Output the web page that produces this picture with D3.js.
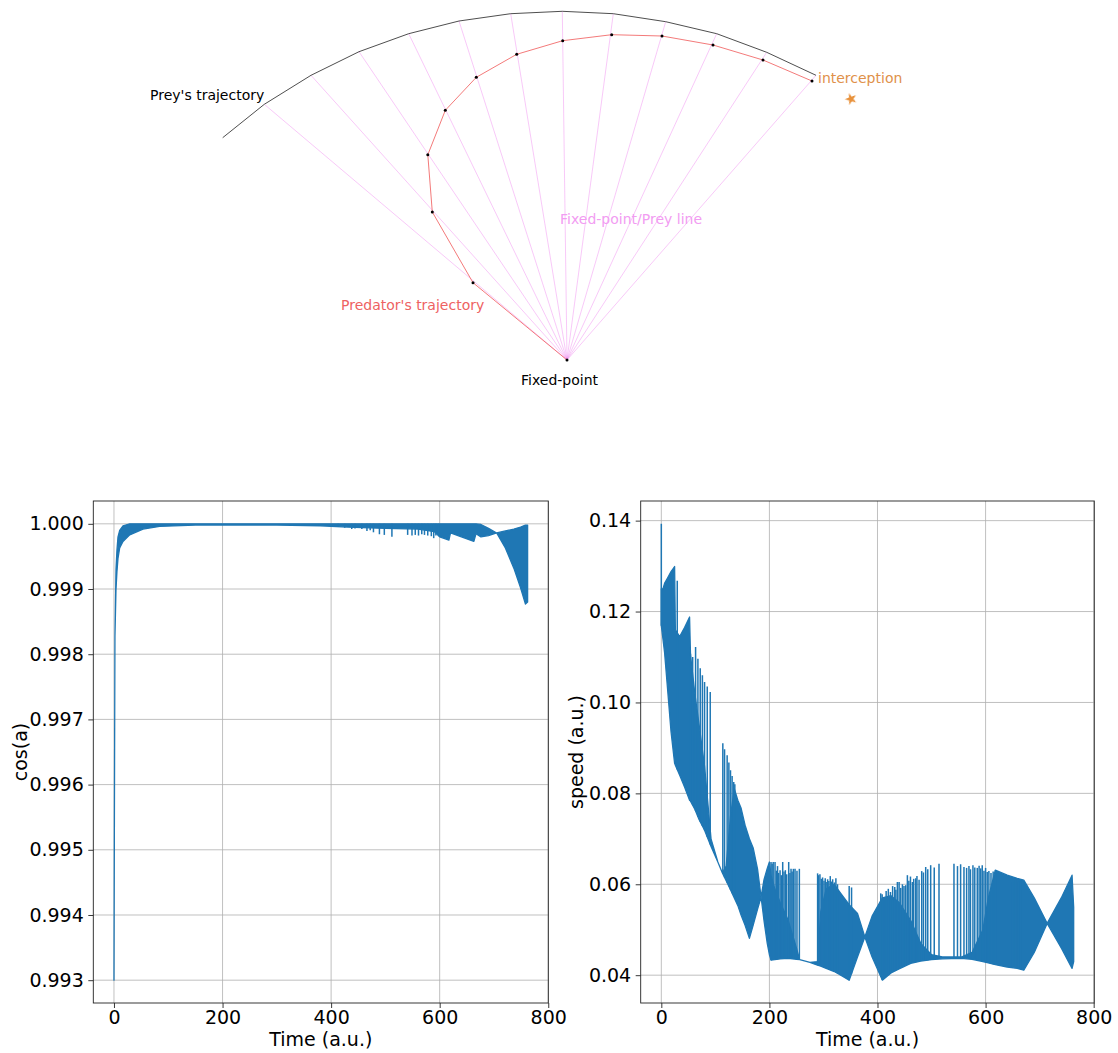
<!DOCTYPE html>
<html>
<head>
<meta charset="utf-8">
<script src="https://cdn.jsdelivr.net/npm/d3@7"></script>
<style>
  body { margin: 0; background: #fff; }
  svg { display: block; }
  text { font-family: "DejaVu Sans", sans-serif; }
</style>
</head>
<body>
<svg id="fig" width="1118" height="1053"></svg>
<script>
// ---------- pursuit geometry (arbitrary units, fixed point at the origin) ----------
const preyX = [-3.443, -3.027, -2.560, -2.080, -1.583, -1.080, -0.563, -0.047, 0.463, 0.987, 1.497, 1.997, 2.490];
const preyY = [ 2.223,  2.557,  2.847,  3.083,  3.263,  3.390,  3.463,  3.487, 3.463, 3.383, 3.263, 3.077, 2.847];
const predX = [0.000, -0.940, -1.347, -1.392, -1.217, -0.907, -0.503, -0.043, 0.447, 0.950, 1.460, 1.960, 2.450];
const predY = [0.000,  0.773,  1.480,  2.052,  2.497,  2.827,  3.057,  3.193, 3.253, 3.240, 3.150, 3.000, 2.790];
const fixedPoint = [0, 0];
const interceptPoint = [2.84, 2.61];

// ---------- cos(a) over time: dense oscillation band (lower/upper envelope) + isolated dips ----------
const cosBandT  = [0, 0.8, 1.8, 3.7, 5.5, 7.4, 10.5, 16.6, 29, 53.5, 84, 150, 300, 380, 430, 500, 560, 590, 600, 617, 620, 640, 663, 667, 676, 690, 705, 721, 736.6, 749, 758, 762];
const cosBandLo = [0.99300, 0.99550, 0.99828, 0.99899, 0.99927, 0.99947, 0.99963, 0.99973, 0.99983, 0.99992, 0.99996, 0.99998, 0.99998, 0.99997, 0.99995, 0.99993, 0.99992, 0.99988, 0.99980, 0.99975, 0.99986, 0.99980, 0.99973, 0.99985, 0.99980, 0.99982, 0.99986, 0.99963, 0.99932, 0.99902, 0.99877, 0.99880];
const cosBandHi = [0.99300, 0.99550, 0.99828, 0.99930, 0.99960, 0.99980, 0.99990, 0.99997, 1.00000, 1.00000, 1.00000, 1.00000, 1.00000, 1.00000, 1.00000, 1.00000, 1.00000, 1.00000, 1.00000, 1.00000, 1.00000, 1.00000, 1.00000, 1.00000, 0.99999, 0.99993, 0.99986, 0.99989, 0.99992, 0.99995, 0.99998, 0.99998];
const cosDipT = [413, 425, 438, 444, 456.6, 466, 472, 478, 489, 498, 512, 541, 549, 555, 561, 567, 572, 578, 584.6, 589, 593, 598];
const cosDipV = [0.99995, 0.99994, 0.99992, 0.99993, 0.99992, 0.99989, 0.99990, 0.99987, 0.99984, 0.99983, 0.99980, 0.99983, 0.99982, 0.99983, 0.99982, 0.99984, 0.99983, 0.99982, 0.99981, 0.99978, 0.99982, 0.99981];
const cosTicks = [0.993, 0.994, 0.995, 0.996, 0.997, 0.998, 0.999, 1.000];

// ---------- predator speed over time: oscillation band + isolated peaks ----------
const speedBandT  = [0, 3, 6, 12, 18, 24.6, 26, 34, 43, 52.3, 54, 62, 70, 80, 92, 104.6, 113, 120, 128, 135, 141.6, 147.7, 155, 163, 170, 178, 184.6,
                     190, 196, 200, 203, 210, 220, 235, 250, 256, 275, 289, 295, 305, 320, 332, 347.6, 363, 376.6,
                     390, 409, 425, 440, 461.5, 480, 500, 520, 555, 575, 595, 605, 618, 640, 658.5, 670.7, 690, 713.9, 740, 760, 763];
const speedBandLo = [0.1169, 0.1140, 0.1110, 0.1023, 0.0935, 0.0866, 0.0862, 0.0840, 0.0814, 0.0785, 0.0783, 0.0765, 0.0742, 0.0719, 0.0683, 0.0649, 0.0625, 0.0608, 0.0588, 0.0570, 0.0553, 0.0532, 0.0510, 0.0481, 0.0510, 0.0545, 0.0572,
                     0.0520, 0.0470, 0.0445, 0.0433, 0.0434, 0.0436, 0.0437, 0.0435, 0.0434, 0.0428, 0.0422, 0.0420, 0.0415, 0.0408, 0.0400, 0.0389, 0.0440, 0.0484,
                     0.0440, 0.0389, 0.0405, 0.0414, 0.0426, 0.0431, 0.0434, 0.0436, 0.0437, 0.0435, 0.0430, 0.0427, 0.0423, 0.0418, 0.0415, 0.0411, 0.0450, 0.0514, 0.0460, 0.0415, 0.0430];
const speedBandHi = [0.1250, 0.1250, 0.1262, 0.1275, 0.1288, 0.1299, 0.1160, 0.1145, 0.1165, 0.1188, 0.1105, 0.1020, 0.0950, 0.0860, 0.0700, 0.0649, 0.0625, 0.0640, 0.0750, 0.0810, 0.0785, 0.0767, 0.0730, 0.0700, 0.0680, 0.0634, 0.0572,
                     0.0610, 0.0635, 0.0649, 0.0620, 0.0590, 0.0560, 0.0520, 0.0460, 0.0434, 0.0428, 0.0430, 0.0540, 0.0590, 0.0600, 0.0580, 0.0555, 0.0536, 0.0484,
                     0.0530, 0.0570, 0.0575, 0.0560, 0.0520, 0.0470, 0.0445, 0.0440, 0.0440, 0.0450, 0.0500, 0.0570, 0.0631, 0.0620, 0.0613, 0.0609, 0.0570, 0.0514, 0.0570, 0.0620, 0.0550];
const speedPeakT = [0, 29.5, 54, 58, 63.4, 67.7, 72, 76, 80, 85, 90.5, 113.8, 117, 121.8, 125, 128, 131, 134, 136,
                    203, 205, 207, 210.4, 213, 215, 217, 219.7, 222, 224.6, 227, 229.5, 232, 235.7, 238, 240, 242, 244.3, 247.4, 251, 255.4,
                    289.2, 291, 293.5, 296, 298.4, 301, 303.3, 305, 307.7, 310, 312.6, 315, 317, 320, 323, 326, 347.6, 352,
                    406, 408.6, 412, 416, 420, 424, 428, 431.9, 434, 436.8, 440, 443, 446.1, 449, 452.2, 455.3, 458, 461, 464.6, 467, 470.8, 473, 476.9, 481.8, 485, 489.2, 493, 498.4, 505, 513.8,
                    541.5, 548, 553.8, 560, 564.9, 569.2, 572, 576.6, 580, 584.6, 588, 591, 593.8, 597, 600, 603, 606.1, 610, 614, 618.4, 650, 655.3, 661, 664.5];
const speedPeakV = [0.1393, 0.1268, 0.1107, 0.1100, 0.1122, 0.1096, 0.1075, 0.1060, 0.1045, 0.1035, 0.1023, 0.0910, 0.0897, 0.0884, 0.0868, 0.0851, 0.0838, 0.0825, 0.0820,
                    0.0649, 0.0645, 0.0649, 0.0649, 0.0630, 0.0640, 0.0625, 0.0631, 0.0620, 0.0649, 0.0628, 0.0631, 0.0622, 0.0649, 0.0625, 0.0634, 0.0628, 0.0634, 0.0634, 0.0630, 0.0634,
                    0.0624, 0.0620, 0.0622, 0.0612, 0.0615, 0.0608, 0.0613, 0.0605, 0.0611, 0.0607, 0.0618, 0.0606, 0.0611, 0.0604, 0.0613, 0.0600, 0.0596, 0.0593,
                    0.0580, 0.0578, 0.0572, 0.0585, 0.0590, 0.0583, 0.0596, 0.0594, 0.0588, 0.0605, 0.0605, 0.0592, 0.0600, 0.0596, 0.0598, 0.0620, 0.0608, 0.0617, 0.0605, 0.0612, 0.0613, 0.0618, 0.0610, 0.0629, 0.0626, 0.0638, 0.0633, 0.0642, 0.0637, 0.0645,
                    0.0645, 0.0640, 0.0644, 0.0638, 0.0636, 0.0640, 0.0633, 0.0642, 0.0637, 0.0636, 0.0641, 0.0635, 0.0642, 0.0630, 0.0636, 0.0627, 0.0629, 0.0625, 0.0628, 0.0631, 0.0605, 0.0613, 0.0606, 0.0609];
const speedTicks = [0.04, 0.06, 0.08, 0.10, 0.12, 0.14];

const timeTicks = [0, 200, 400, 600, 800];

const BLUE = "#1f77b4";
const FONT = 19;
const svg = d3.select("#fig");
const defs = svg.append("defs");

// ================= top: trajectories =================
(function drawTrajectories() {
  const x = d3.scaleLinear().domain([0, 1]).range([567, 667]);
  const y = d3.scaleLinear().domain([0, 1]).range([360, 260]);
  const g = svg.append("g");

  const prey = preyX.map((v, i) => [v, preyY[i]]);
  const pred = predX.map((v, i) => [v, predY[i]]);
  const line = d3.line().x(d => x(d[0])).y(d => y(d[1]));

  // fixed-point -> prey rays
  g.selectAll("line.ray").data(prey.slice(1)).join("line")
    .attr("class", "ray")
    .attr("x1", x(fixedPoint[0])).attr("y1", y(fixedPoint[1]))
    .attr("x2", d => x(d[0])).attr("y2", d => y(d[1]))
    .attr("stroke", "violet").attr("stroke-opacity", 0.55).attr("stroke-width", 0.8);

  g.append("path").datum(prey).attr("d", line)
    .attr("fill", "none").attr("stroke", "#3a3a3a").attr("stroke-width", 0.9);

  g.append("path").datum(pred).attr("d", line)
    .attr("fill", "none").attr("stroke", "#f26b6b").attr("stroke-width", 0.9);

  g.selectAll("circle.pt").data(pred).join("circle")
    .attr("class", "pt")
    .attr("cx", d => x(d[0])).attr("cy", d => y(d[1])).attr("r", 1.5)
    .attr("fill", "#000");

  defs.append("filter").attr("id", "soft")
    .append("feGaussianBlur").attr("stdDeviation", 0.7);

  g.append("path")
    .attr("d", d3.symbol(d3.symbolStar, 44)())
    .attr("transform", `translate(${x(interceptPoint[0])},${y(interceptPoint[1])}) rotate(-20)`)
    .attr("fill", "#e8913a").attr("filter", "url(#soft)");

  const labels = [
    { t: "Prey's trajectory", p: [-4.17, 2.60], c: "#000" },
    { t: "interception", p: [2.51, 2.77], c: "#e0914a" },
    { t: "Fixed-point/Prey line", p: [-0.07, 1.36], c: "#f29cf2" },
    { t: "Predator's trajectory", p: [-2.26, 0.50], c: "#ee6262" },
    { t: "Fixed-point", p: [-0.46, -0.25], c: "#000" }
  ];
  g.selectAll("text.lab").data(labels).join("text")
    .attr("class", "lab")
    .attr("x", d => x(d.p[0])).attr("y", d => y(d.p[1]))
    .attr("font-size", 14).attr("fill", d => d.c)
    .text(d => d.t);
})();

// ================= bottom: time-series panels =================
function padded(lo, hi) { const m = (hi - lo) * 0.05; return [lo - m, hi + m]; }

function drawPanel(o) {
  const g = svg.append("g");
  const tAll = o.bandT.concat(o.markT);
  const vAll = o.bandLo.concat(o.bandHi, o.markV);
  const x = d3.scaleLinear().domain(padded(d3.min(tAll), d3.max(tAll))).range([o.left, o.left + o.width]);
  const y = d3.scaleLinear().domain(padded(d3.min(vAll), d3.max(vAll))).range([o.top + o.height, o.top]);

  // grid
  g.selectAll("line.gx").data(timeTicks).join("line")
    .attr("x1", d => x(d)).attr("x2", d => x(d))
    .attr("y1", o.top).attr("y2", o.top + o.height)
    .attr("stroke", "#b0b0b0").attr("stroke-width", 0.8);
  g.selectAll("line.gy").data(o.yTicks).join("line")
    .attr("x1", o.left).attr("x2", o.left + o.width)
    .attr("y1", d => y(d)).attr("y2", d => y(d))
    .attr("stroke", "#b0b0b0").attr("stroke-width", 0.8);

  const clipId = "clip" + o.id;
  defs.append("clipPath").attr("id", clipId)
    .append("rect").attr("x", o.left).attr("y", o.top).attr("width", o.width).attr("height", o.height);
  const data = g.append("g").attr("clip-path", `url(#${clipId})`);

  const band = o.bandT.map((t, i) => ({ t, lo: o.bandLo[i], hi: o.bandHi[i] }));
  data.append("path").datum(band)
    .attr("d", d3.area().x(d => x(d.t)).y0(d => y(d.lo)).y1(d => y(d.hi)))
    .attr("fill", BLUE).attr("stroke", BLUE).attr("stroke-width", 1.3).attr("stroke-linejoin", "round");

  // isolated excursions drawn from the band edge out to their extreme value
  const bis = d3.bisector(d => d.t).left;
  const edgeAt = (t, key) => {
    const i = Math.max(1, Math.min(band.length - 1, bis(band, t)));
    const a = band[i - 1], b = band[i];
    const f = (t - a.t) / (b.t - a.t);
    return a[key] + (b[key] - a[key]) * f;
  };
  data.selectAll("line.mark").data(o.markT.map((t, i) => ({ t, v: o.markV[i] }))).join("line")
    .attr("x1", d => x(d.t)).attr("x2", d => x(d.t))
    .attr("y1", d => y(d.v)).attr("y2", d => y(edgeAt(d.t, o.markFrom)))
    .attr("stroke", BLUE).attr("stroke-width", 1.5);

  // frame
  g.append("rect").attr("x", o.left).attr("y", o.top).attr("width", o.width).attr("height", o.height)
    .attr("fill", "none").attr("stroke", "#222").attr("stroke-width", 0.9);

  // axes
  const xa = g.append("g").attr("transform", `translate(0,${o.top + o.height})`)
    .call(d3.axisBottom(x).tickValues(timeTicks).tickFormat(d3.format("d")).tickSize(5).tickPadding(2.5));
  const ya = g.append("g").attr("transform", `translate(${o.left},0)`)
    .call(d3.axisLeft(y).tickValues(o.yTicks).tickFormat(d3.format(o.fmt)).tickSize(5).tickPadding(4.5));
  [xa, ya].forEach(a => {
    a.select(".domain").remove();
    a.selectAll("line").attr("stroke", "#222").attr("stroke-width", 0.9);
    a.selectAll("text").attr("font-size", FONT).attr("fill", "#000").attr("font-family", "DejaVu Sans, sans-serif");
  });

  g.append("text").attr("x", o.left + o.width / 2).attr("y", 1046)
    .attr("text-anchor", "middle").attr("font-size", FONT).text("Time (a.u.)");
  g.append("text").attr("transform", `translate(${o.ylabX},${o.top + o.height / 2}) rotate(-90)`)
    .attr("text-anchor", "middle").attr("font-size", FONT).text(o.ylab);
}

drawPanel({
  id: "cos", left: 93.3, top: 501, width: 455, height: 502,
  bandT: cosBandT, bandLo: cosBandLo, bandHi: cosBandHi,
  markT: cosDipT, markV: cosDipV, markFrom: "hi",
  yTicks: cosTicks, fmt: ".3f", ylab: "cos(a)", ylabX: 27
});

drawPanel({
  id: "speed", left: 640.7, top: 501, width: 453.6, height: 502,
  bandT: speedBandT, bandLo: speedBandLo, bandHi: speedBandHi,
  markT: speedPeakT, markV: speedPeakV, markFrom: "lo",
  yTicks: speedTicks, fmt: ".2f", ylab: "speed (a.u.)", ylabX: 583
});
</script>
</body>
</html>
